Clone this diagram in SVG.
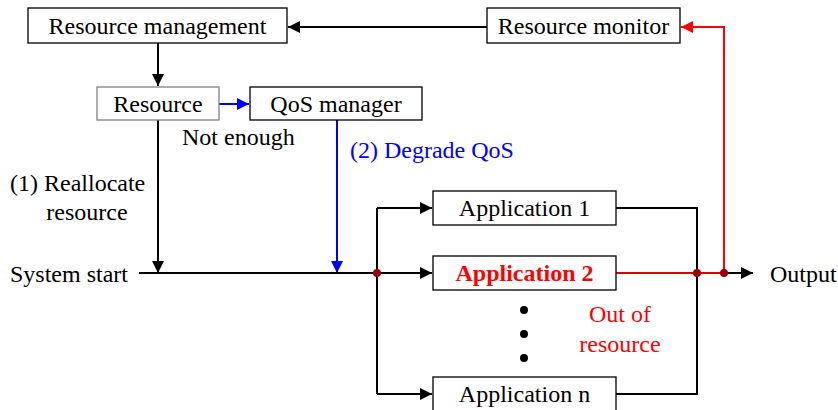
<svg xmlns="http://www.w3.org/2000/svg" width="838" height="410" viewBox="0 0 838 410" font-family="'Liberation Serif', 'Times New Roman', 'DejaVu Serif', serif" font-size="24">
  <style>
    text { font-family: "Liberation Serif", "Times New Roman", "DejaVu Serif", serif; font-size: 24px; fill: #000; }
    .box { fill: #fff; stroke: #000; stroke-width: 1.3; }
    .box-grey { fill: #fff; stroke: #808080; stroke-width: 1.3; }
    .ln { fill: none; stroke: #000; stroke-width: 2; }
    .ln-blue { fill: none; stroke: #0000ff; stroke-width: 2; }
    .ln-red { fill: none; stroke: #e00000; stroke-width: 2; }
    .mid { text-anchor: middle; }
  </style>
  <defs>
    <marker id="ah" viewBox="0 0 12 12" refX="12" refY="6" markerWidth="12" markerHeight="12" markerUnits="userSpaceOnUse" orient="auto">
      <path d="M0,0 L12,6 L0,12 Z" fill="#000"/>
    </marker>
    <marker id="ah-blue" viewBox="0 0 12 12" refX="12" refY="6" markerWidth="12" markerHeight="12" markerUnits="userSpaceOnUse" orient="auto">
      <path d="M0,0 L12,6 L0,12 Z" fill="#0000ff"/>
    </marker>
    <marker id="ah-red" viewBox="0 0 12 12" refX="12" refY="6" markerWidth="12" markerHeight="12" markerUnits="userSpaceOnUse" orient="auto">
      <path d="M0,0 L12,6 L0,12 Z" fill="#ff0000"/>
    </marker>
  </defs>

  <!-- connectors -->
  <g id="connectors">
    <path class="ln" d="M487,27 H288" marker-end="url(#ah)"/>
    <path class="ln" d="M158,43 V86" marker-end="url(#ah)"/>
    <path class="ln-blue" d="M219,104 H249" marker-end="url(#ah-blue)"/>
    <path class="ln" d="M158,120 V273" marker-end="url(#ah)"/>
    <path class="ln-blue" d="M337,120 V273" marker-end="url(#ah-blue)"/>
    <path class="ln" d="M139,273 H432" marker-end="url(#ah)"/>
    <path class="ln" d="M377,208 V394"/>
    <path class="ln" d="M377,208 H432" marker-end="url(#ah)"/>
    <path class="ln" d="M377,394 H432" marker-end="url(#ah)"/>
    <path class="ln" d="M616,208 H697 V394 H616"/>
    <path class="ln-red" d="M616,273 H724"/>
    <path class="ln" d="M724,273 H753" marker-end="url(#ah)"/>
    <path class="ln-red" style="stroke:#ff0000" d="M724,273 V27 H681" marker-end="url(#ah-red)"/>
    <circle cx="377" cy="273" r="4" fill="#9b0000"/>
    <circle cx="697" cy="273" r="4" fill="#9b0000"/>
    <circle cx="724" cy="273" r="4" fill="#9b0000"/>
  </g>

  <g id="resource-management">
    <rect class="box" x="28" y="8" width="259" height="35"/>
    <text class="mid" x="157.5" y="34">Resource management</text>
  </g>
  <g id="resource-monitor">
    <rect class="box" x="487" y="8" width="193" height="35"/>
    <text class="mid" x="583.5" y="34">Resource monitor</text>
  </g>
  <g id="resource">
    <rect class="box-grey" x="97" y="87" width="122" height="33"/>
    <text class="mid" x="158" y="112">Resource</text>
  </g>
  <g id="qos-manager">
    <rect class="box" x="250" y="87" width="172" height="33"/>
    <text class="mid" x="336" y="112">QoS manager</text>
  </g>
  <g id="application-1">
    <rect class="box" x="433" y="191" width="183" height="34"/>
    <text class="mid" x="524.5" y="216">Application 1</text>
  </g>
  <g id="application-2">
    <rect class="box" x="433" y="256" width="183" height="34"/>
    <text class="mid" x="524.5" y="281" style="fill:#ff0000;font-weight:bold">Application 2</text>
  </g>
  <g id="application-n">
    <rect class="box" x="433" y="377" width="183" height="34"/>
    <text class="mid" x="524.5" y="402">Application n</text>
  </g>

  <!-- ellipsis -->
  <g id="ellipsis" fill="#000">
    <circle cx="524" cy="310" r="4"/>
    <circle cx="524" cy="334" r="4"/>
    <circle cx="524" cy="358" r="4"/>
  </g>

  <!-- labels -->
  <g id="labels">
    <text x="182" y="145">Not enough</text>
    <text x="350" y="158" style="fill:#0000ff">(2) Degrade QoS</text>
    <text x="10" y="191">(1) Reallocate</text>
    <text class="mid" x="87" y="220">resource</text>
    <text x="10" y="282">System start</text>
    <text x="770" y="282">Output</text>
    <text class="mid" x="620" y="322" style="fill:#ff0000">Out of</text>
    <text class="mid" x="620" y="352" style="fill:#ff0000">resource</text>
  </g>
</svg>
